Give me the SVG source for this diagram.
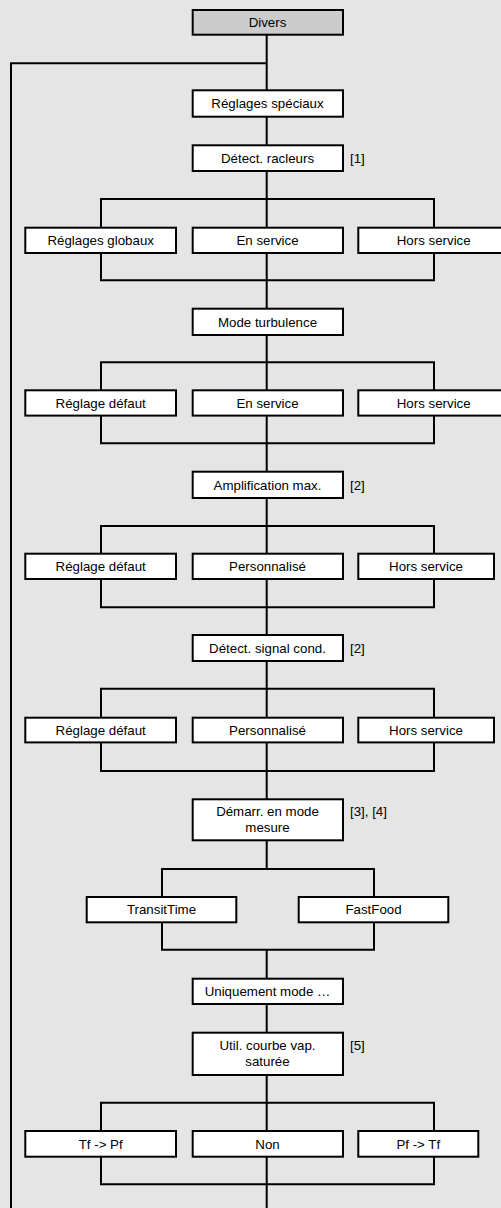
<svg xmlns="http://www.w3.org/2000/svg" width="501" height="1208" viewBox="0 0 501 1208">
<style>
.bg{fill:#e5e5e5}
.box{fill:#ffffff;stroke:#000;stroke-width:2}
.head{fill:#cccccc;stroke:#000;stroke-width:2}
.ln{fill:none;stroke:#000;stroke-width:2;stroke-linecap:square}
text{font-family:"Liberation Sans",Arial,sans-serif;font-size:13.3px;fill:#000}
.c{text-anchor:middle}
</style>
<rect class="bg" x="0" y="0" width="501" height="1208"/>
<g id="connectors">
<path class="ln" d="M266.7 36V63.3M11 63.3H266.7V89M11 63.3V1208"/>
<path class="ln" d="M266.7 118V144M266.7 172V199M101 199H434M101 199V227M266.7 199V227M434 199V227"/>
<path class="ln" d="M101 254V280.3M266.7 254V280.3M434 254V280.3M101 280.3H434M266.7 280.3V308"/>
<path class="ln" d="M266.7 336V362.3M101 362.3H434M101 362.3V389M266.7 362.3V389M434 362.3V389"/>
<path class="ln" d="M101 417V443.3M266.7 417V443.3M434 417V443.3M101 443.3H434M266.7 443.3V471"/>
<path class="ln" d="M266.7 499V526M101 526H434M101 526V553M266.7 526V553M434 526V553"/>
<path class="ln" d="M101 580V607.3M266.7 580V607.3M434 580V607.3M101 607.3H434M266.7 607.3V634"/>
<path class="ln" d="M266.7 662V688.7M101 688.7H434M101 688.7V717M266.7 688.7V717M434 688.7V717"/>
<path class="ln" d="M101 743V771M266.7 743V771M434 743V771M101 771H434M266.7 771V798"/>
<path class="ln" d="M266.7 841V869M162 869H374M162 869V896M374 869V896"/>
<path class="ln" d="M162 923V949.7M374 923V949.7M162 949.7H374M266.7 949.7V978"/>
<path class="ln" d="M266.7 1005V1032"/>
<path class="ln" d="M266.7 1076V1102.7M101 1102.7H434M101 1102.7V1130M266.7 1102.7V1130M434 1102.7V1130"/>
<path class="ln" d="M101 1157.7V1184.3M266.7 1157.7V1184.3M434 1157.7V1184.3M101 1184.3H434M266.7 1184.3V1208"/>
</g>
<g id="n-divers"><rect class="head" x="192.7" y="10" width="150.3" height="24.7"/><text class="c" x="267.5" y="26.7">Divers</text></g>
<g id="n-reglages-speciaux"><rect class="box" x="192.7" y="90.3" width="150.3" height="26.4"/><text class="c" x="267.5" y="108.2">Réglages spéciaux</text></g>
<g id="n-detect-racleurs"><rect class="box" x="192.7" y="145.3" width="150.3" height="25.7"/><text class="c" x="267.5" y="163">Détect. racleurs</text><text x="350" y="162.5">[1]</text></g>
<g id="n-r1-a"><rect class="box" x="25.3" y="227.7" width="150.7" height="25.3"/><text class="c" x="100.7" y="245">Réglages globaux</text></g>
<g id="n-r1-b"><rect class="box" x="192.7" y="227.7" width="150.3" height="25.3"/><text class="c" x="267.5" y="245">En service</text></g>
<g id="n-r1-c"><rect class="box" x="358.3" y="227.7" width="150.7" height="25.3"/><text class="c" x="433.7" y="245">Hors service</text></g>
<g id="n-mode-turbulence"><rect class="box" x="192.7" y="308.7" width="150.3" height="26.3"/><text class="c" x="267.5" y="326.5">Mode turbulence</text></g>
<g id="n-r2-a"><rect class="box" x="25.3" y="390.3" width="150.7" height="25.3"/><text class="c" x="100.7" y="407.7">Réglage défaut</text></g>
<g id="n-r2-b"><rect class="box" x="192.7" y="390.3" width="150.3" height="25.3"/><text class="c" x="267.5" y="407.7">En service</text></g>
<g id="n-r2-c"><rect class="box" x="358.3" y="390.3" width="150.7" height="25.3"/><text class="c" x="433.7" y="407.7">Hors service</text></g>
<g id="n-amplification"><rect class="box" x="192.7" y="471.7" width="150.3" height="26.3"/><text class="c" x="267.5" y="489.5">Amplification max.</text><text x="350" y="489.5">[2]</text></g>
<g id="n-r3-a"><rect class="box" x="25.3" y="553.7" width="150.7" height="25.3"/><text class="c" x="100.7" y="571">Réglage défaut</text></g>
<g id="n-r3-b"><rect class="box" x="192.7" y="553.7" width="150.3" height="25.3"/><text class="c" x="267.5" y="571">Personnalisé</text></g>
<g id="n-r3-c"><rect class="box" x="358.3" y="553.7" width="135.7" height="25.3"/><text class="c" x="426" y="571">Hors service</text></g>
<g id="n-detect-signal"><rect class="box" x="192.7" y="635" width="150.3" height="26"/><text class="c" x="267.5" y="652.6">Détect. signal cond.</text><text x="350" y="652.6">[2]</text></g>
<g id="n-r4-a"><rect class="box" x="25.3" y="717.7" width="150.7" height="24.7"/><text class="c" x="100.7" y="734.7">Réglage défaut</text></g>
<g id="n-r4-b"><rect class="box" x="192.7" y="717.7" width="150.3" height="24.7"/><text class="c" x="267.5" y="734.7">Personnalisé</text></g>
<g id="n-r4-c"><rect class="box" x="358.3" y="717.7" width="135.7" height="24.7"/><text class="c" x="426" y="734.7">Hors service</text></g>
<g id="n-demarr"><rect class="box" x="192.7" y="799.3" width="150.3" height="41"/><text class="c" x="267.5" y="816">Démarr. en mode</text><text class="c" x="267.5" y="831.7">mesure</text><text x="350" y="816">[3], [4]</text></g>
<g id="n-transittime"><rect class="box" x="86.7" y="897" width="149.6" height="25.3"/><text class="c" x="161.5" y="914.4">TransitTime</text></g>
<g id="n-fastfood"><rect class="box" x="298.7" y="897" width="149.6" height="25.3"/><text class="c" x="373.5" y="914.4">FastFood</text></g>
<g id="n-uniquement"><rect class="box" x="192.7" y="978.7" width="150.3" height="25.3"/><text class="c" x="267.5" y="996">Uniquement mode …</text></g>
<g id="n-util-courbe"><rect class="box" x="192.7" y="1032.7" width="150.3" height="42.3"/><text class="c" x="267.5" y="1050">Util. courbe vap.</text><text class="c" x="267.5" y="1065.7">saturée</text><text x="350" y="1050">[5]</text></g>
<g id="n-r5-a"><rect class="box" x="25.3" y="1131" width="150.7" height="25.7"/><text class="c" x="100.7" y="1148.5">Tf -&gt; Pf</text></g>
<g id="n-r5-b"><rect class="box" x="192.7" y="1131" width="150.3" height="25.7"/><text class="c" x="267.5" y="1148.5">Non</text></g>
<g id="n-r5-c"><rect class="box" x="358.3" y="1131" width="120" height="25.7"/><text class="c" x="418.3" y="1148.5">Pf -&gt; Tf</text></g>
</svg>
